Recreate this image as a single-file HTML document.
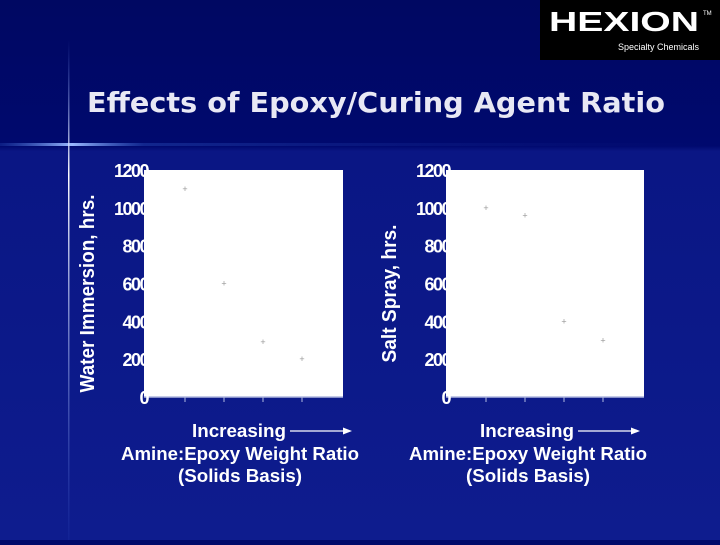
<!DOCTYPE html>
<html><head><meta charset="utf-8"><style>
body{margin:0;width:720px;height:540px;overflow:hidden;background:#000a6a;font-family:"Liberation Sans",sans-serif}
</style></head><body>
<svg width="720" height="540" xmlns="http://www.w3.org/2000/svg">
<defs>
<linearGradient id="bg" x1="0" y1="0" x2="0" y2="1">
<stop offset="0" stop-color="#000862"/><stop offset="0.27" stop-color="#00096e"/><stop offset="0.28" stop-color="#0a1684"/><stop offset="1" stop-color="#0e1c8e"/></linearGradient>
<linearGradient id="hl" x1="0" x2="1"><stop offset="0" stop-color="#3a6ad8" stop-opacity="0.2"/><stop offset="0.1" stop-color="#9ab8ff"/><stop offset="0.2" stop-color="#3a6ad8" stop-opacity="0.3"/><stop offset="1" stop-color="#1a2a9a" stop-opacity="0"/></linearGradient>
<linearGradient id="vl" x1="0" y1="0" x2="0" y2="1"><stop offset="0" stop-color="#5a7ae8" stop-opacity="0"/><stop offset="0.27" stop-color="#ffffff"/><stop offset="1" stop-color="#3a5ad0" stop-opacity="0.1"/></linearGradient>
</defs>
<rect width="720" height="540" fill="url(#bg)"/>
<rect x="0" y="143" width="720" height="3" fill="url(#hl)"/>
<rect x="68" y="40" width="1.5" height="500" fill="url(#vl)"/>
<g>
<rect x="540" y="0" width="180" height="60" fill="#000"/>
<text x="549" y="31" font-size="28" font-weight="bold" fill="#fff" font-family="Liberation Sans" textLength="150" lengthAdjust="spacingAndGlyphs">HEXION</text>
<text x="703" y="15" font-size="6" fill="#fff">TM</text>
<text x="699" y="50" font-size="9" fill="#fff" text-anchor="end">Specialty Chemicals</text>
</g>
<text x="87" y="112" font-size="28" font-weight="bold" fill="#e8e8f4" font-family="DejaVu Sans" textLength="578" lengthAdjust="spacingAndGlyphs">Effects of Epoxy/Curing Agent Ratio</text>
<g id="c1"></g>
<g id="c2"></g>
</svg>
<script>
const yTicks=[0,200,400,600,800,1000,1200];
const categories=[1,2,3,4];
const waterValues=[1100,600,290,200];
const saltValues=[1000,960,400,300];
const NS="http://www.w3.org/2000/svg";
function mk(p,t,a){const e=document.createElementNS(NS,t);for(const k in a)e.setAttribute(k,a[k]);p.appendChild(e);return e;}
function chart(g,x0,x1,ticksX,vals,ytitle,titleLen,cx){
 const yT=170,yB=397;
 const ys=v=>yB-(v/1200)*(yB-yT);
 const xs=i=>ticksX[0]+(ticksX[1]-ticksX[0])*(i-1);
 const bg=mk(g,'rect',{x:x0,y:yT,width:x1-x0,height:yB-yT,fill:'#ffffff'});
 
 
 mk(g,'line',{x1:x0,y1:yB,x2:x1,y2:yB,stroke:'#b0b8e0','stroke-width':1.5});
 yTicks.forEach(v=>{const t=mk(g,'text',{x:x0+4,y:ys(v)+7,'font-size':18,'font-weight':'bold',fill:'#fff','text-anchor':'end','letter-spacing':'-1.5'});t.textContent=v;
 
 });
 categories.forEach(c=>{mk(g,'line',{x1:xs(c),y1:yB,x2:xs(c),y2:yB+5,stroke:'#b0b8e0'});});
 vals.forEach((v,i)=>{const p=mk(g,'text',{x:xs(categories[i]),y:ys(v)+3,'font-size':9,fill:'#999','text-anchor':'middle'});p.textContent='+';
 
 });
 const yt=mk(g,'text',{transform:`translate(${x0-50},${(yT+yB)/2+10}) rotate(-90)`,'font-size':20,'font-weight':'bold',fill:'#fff','text-anchor':'middle',textLength:titleLen,lengthAdjust:'spacingAndGlyphs'});yt.textContent=ytitle;
 
 
 const l1=mk(g,'text',{x:cx-1,y:437,'font-size':18,'font-weight':'bold',fill:'#fff','text-anchor':'middle',textLength:94,lengthAdjust:'spacingAndGlyphs'});l1.textContent='Increasing';
 
 
 mk(g,'line',{x1:cx+50,y1:431,x2:cx+104,y2:431,stroke:'#fff','stroke-width':1.2});
 mk(g,'path',{d:`M${cx+103},427.5 L${cx+112},431 L${cx+103},434.5Z`,fill:'#fff'});
 const l2=mk(g,'text',{x:cx,y:460,'font-size':18,'font-weight':'bold',fill:'#fff','text-anchor':'middle',textLength:238,lengthAdjust:'spacingAndGlyphs'});l2.textContent='Amine:Epoxy Weight Ratio';
 
 
 const l3=mk(g,'text',{x:cx,y:482,'font-size':18,'font-weight':'bold',fill:'#fff','text-anchor':'middle',textLength:124,lengthAdjust:'spacingAndGlyphs'});l3.textContent='(Solids Basis)';
 
 
}
chart(document.getElementById('c1'),144,343,[185,224],waterValues,'Water Immersion, hrs.',198,240);
chart(document.getElementById('c2'),446,644,[486,525],saltValues,'Salt Spray, hrs.',138,528);
</script>
</body></html>
